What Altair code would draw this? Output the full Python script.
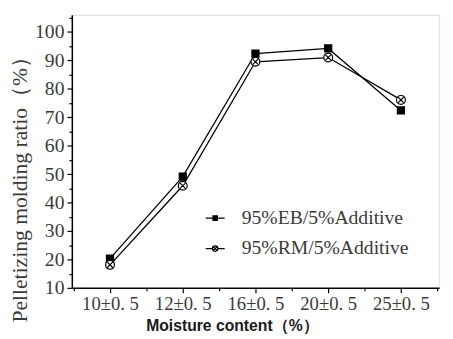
import altair as alt
import pandas as pd

categories = ["10±0. 5", "12±0. 5", "16±0. 5", "20±0. 5", "25±0. 5"]
series = ["95%EB/5%Additive", "95%RM/5%Additive"]
eb_values = [20.3, 49.1, 92.4, 94.2, 72.4]
rm_values = [18.1, 45.9, 89.5, 91.0, 76.1]
y_ticks = [10, 20, 30, 40, 50, 60, 70, 80, 90, 100]
y_minor = [15, 25, 35, 45, 55, 65, 75, 85, 95, 105]
x_minor = [-0.5, 0.5, 1.5, 2.5, 3.5, 4.5]

rows = []
for i, c in enumerate(categories):
    rows.append({"idx": i, "cat": c, "series": series[0], "v": eb_values[i]})
    rows.append({"idx": i, "cat": c, "series": series[1], "v": rm_values[i]})
df = pd.DataFrame(rows)

label_expr = "[" + ",".join("'" + c + "'" for c in categories) + "][datum.value]"

xscale = alt.Scale(domain=[-0.525, 4.525], nice=False, zero=False)
yscale = alt.Scale(domain=[10, 106], nice=False, zero=False)

serif = "Liberation Serif"
tc = "#3a3a3a"

x_major = alt.X("idx:Q", scale=xscale, axis=alt.Axis(
    values=list(range(len(categories))), labelExpr=label_expr,
    title="Moisture content（%）", titleFont="Liberation Sans", titleFontSize=16,
    titleFontWeight="bold", titleColor="#1a1a1a", titleX=163, titleY=38,
    titleAlign="center", titleBaseline="middle",
    labelFont=serif, labelFontSize=19, labelColor=tc, labelPadding=2,
    tickSize=5, tickColor="black", tickWidth=1.2, domainColor="black", domainWidth=1.5,
    grid=False, orient="bottom"))
y_major = alt.Y("v:Q", scale=yscale, axis=alt.Axis(
    values=y_ticks, title="Pelletizing molding ratio（%）", titleFont=serif,
    titleFontSize=22, titleFontWeight="normal", titleColor=tc, titleX=-53, titleY=172,
    titleAlign="center", titleBaseline="middle", titleAngle=270,
    labelFont=serif, labelFontSize=20, labelColor=tc, labelPadding=3,
    tickSize=5, tickColor="black", tickWidth=1.2, domainColor="black", domainWidth=1.5,
    grid=False, orient="left"))

x_min = alt.X("idx:Q", scale=xscale, axis=alt.Axis(
    values=x_minor, labels=False, title=None, domain=False, tickSize=3,
    tickColor="black", tickWidth=1.2, grid=False, orient="bottom"))
y_min = alt.Y("v:Q", scale=yscale, axis=alt.Axis(
    values=y_minor, labels=False, title=None, domain=False, tickSize=3,
    tickColor="black", tickWidth=1.2, grid=False, orient="left"))

lines = alt.Chart(df).mark_line(color="black", strokeWidth=1.3).encode(
    x=x_major, y=y_major, detail="series:N")

pt_paths = ["M-0.8,-0.8H0.8V0.8H-0.8Z",
            "M1,0A1,1,0,1,1,-1,0A1,1,0,1,1,1,0Z M-0.6,-0.6L0.6,0.6M-0.6,0.6L0.6,-0.6"]
points = alt.Chart(df).mark_point(size=81, stroke="black", strokeWidth=1.2, opacity=1).encode(
    x=x_min, y=y_min,
    shape=alt.Shape("series:N", scale=alt.Scale(domain=series, range=pt_paths), legend=None),
    fill=alt.Fill("series:N", scale=alt.Scale(domain=series, range=["black", "white"]), legend=None),
)

lg_paths = ["M-1.93,0H1.93M-0.45,-0.45H0.45V0.45H-0.45Z",
            "M-1.93,0H-0.55M0.55,0H1.93M0.55,0A0.55,0.55,0,1,1,-0.55,0A0.55,0.55,0,1,1,0.55,0Z M-0.33,-0.33L0.33,0.33M-0.33,0.33L0.33,-0.33"]
legend = alt.Legend(title=None, orient="none", legendX=136, legendY=197, padding=0,
                    labelFont=serif, labelFontSize=20, labelColor=tc, labelOffset=17,
                    labelLimit=400, rowPadding=11, symbolStrokeColor="black",
                    symbolStrokeWidth=1.2, symbolOpacity=1)
legend_layer = alt.Chart(df).transform_filter("datum.v < 0").mark_point(
    size=225, strokeWidth=1.2, opacity=1).encode(
    x=alt.X("idx:Q", scale=xscale, axis=None),
    y=alt.Y("v:Q", scale=yscale, axis=None),
    shape=alt.Shape("series:N", scale=alt.Scale(domain=series, range=lg_paths), legend=legend),
    fill=alt.Fill("series:N", scale=alt.Scale(domain=series, range=["black", "white"]), legend=legend),
    stroke=alt.Stroke("series:N", scale=alt.Scale(domain=series, range=["black", "black"]), legend=legend),
)

chart = alt.layer(lines, points, legend_layer).resolve_scale(
    shape="independent", fill="independent", stroke="independent").resolve_axis(
    x="independent", y="independent").properties(
    width=374, height=278,
    autosize=alt.AutoSizeParams(type="none"),
    padding={"left": 65, "top": 4, "right": 6, "bottom": 45},
).configure_view(stroke=None).configure(background="white")

chart.save("out.html", embed_options={"renderer": "svg", "actions": False})
